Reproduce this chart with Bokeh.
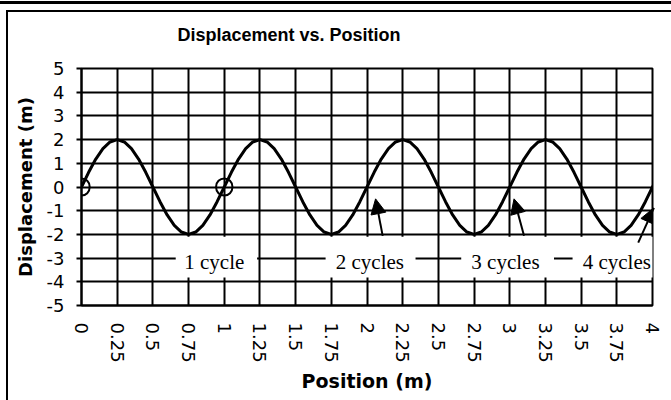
import math
from bokeh.plotting import figure
from bokeh.models import (FixedTicker, Label, Arrow, NormalHead, Range1d)
from bokeh.core.properties import value
from bokeh.embed import file_html
from bokeh.resources import INLINE

# ---- data ----
position = [
    0.00, 0.05, 0.10, 0.15, 0.20, 0.25, 0.30, 0.35, 0.40, 0.45,
    0.50, 0.55, 0.60, 0.65, 0.70, 0.75, 0.80, 0.85, 0.90, 0.95,
    1.00, 1.05, 1.10, 1.15, 1.20, 1.25, 1.30, 1.35, 1.40, 1.45,
    1.50, 1.55, 1.60, 1.65, 1.70, 1.75, 1.80, 1.85, 1.90, 1.95,
    2.00, 2.05, 2.10, 2.15, 2.20, 2.25, 2.30, 2.35, 2.40, 2.45,
    2.50, 2.55, 2.60, 2.65, 2.70, 2.75, 2.80, 2.85, 2.90, 2.95,
    3.00, 3.05, 3.10, 3.15, 3.20, 3.25, 3.30, 3.35, 3.40, 3.45,
    3.50, 3.55, 3.60, 3.65, 3.70, 3.75, 3.80, 3.85, 3.90, 3.95,
    4.00, 4.05,
]
displacement = [
    0.00, 0.62, 1.18, 1.62, 1.90, 2.00, 1.90, 1.62, 1.18, 0.62,
    0.00, -0.62, -1.18, -1.62, -1.90, -2.00, -1.90, -1.62, -1.18, -0.62,
    0.00, 0.62, 1.18, 1.62, 1.90, 2.00, 1.90, 1.62, 1.18, 0.62,
    0.00, -0.62, -1.18, -1.62, -1.90, -2.00, -1.90, -1.62, -1.18, -0.62,
    0.00, 0.62, 1.18, 1.62, 1.90, 2.00, 1.90, 1.62, 1.18, 0.62,
    0.00, -0.62, -1.18, -1.62, -1.90, -2.00, -1.90, -1.62, -1.18, -0.62,
    0.00, 0.62, 1.18, 1.62, 1.90, 2.00, 1.90, 1.62, 1.18, 0.62,
    0.00, -0.62, -1.18, -1.62, -1.90, -2.00, -1.90, -1.62, -1.18, -0.62,
    0.00, 0.62,
]

x_ticks = [0, 0.25, 0.5, 0.75, 1, 1.25, 1.5, 1.75, 2, 2.25, 2.5, 2.75,
           3, 3.25, 3.5, 3.75, 4]
x_tick_labels = ["0", "0.25", "0.5", "0.75", "1", "1.25", "1.5", "1.75", "2",
                 "2.25", "2.5", "2.75", "3", "3.25", "3.5", "3.75", "4"]
y_ticks = [-5, -4, -3, -2, -1, 0, 1, 2, 3, 4, 5]
y_tick_labels = ["-5", "-4", "-3", "-2", "-1", "0", "1", "2", "3", "4", "5"]

marked_x = [0, 1]
marked_y = [0, 0]

cycle_labels = ["1 cycle", "2 cycles", "3 cycles", "4 cycles"]
cycle_label_x = [0.93, 2.02, 2.97, 3.75]
cycle_box_left = [0.66, 1.71, 2.66, 3.44]
cycle_box_right = [1.23, 2.34, 3.31, 4.05]

arrow_tail_x = [2.11, 3.10, 3.90]
arrow_tail_y = [-2.06, -2.06, -2.35]
arrow_head_x = [2.06, 3.03, 4.01]
arrow_head_y = [-0.50, -0.50, -0.88]

# ---- figure ----
p = figure(width=671, height=400, x_range=Range1d(0, 4), y_range=Range1d(-5, 5),
           output_backend="svg", toolbar_location=None,
           min_border_left=81, min_border_right=19, min_border_top=67,
           min_border_bottom=95)
p.background_fill_color = "white"
p.border_fill_color = None
p.outline_line_color = "black"
p.outline_line_width = 2
p.styles = {
    "background-color": "white",
    "background-image": "linear-gradient(#000,#000), linear-gradient(#000,#000), linear-gradient(#000,#000)",
    "background-size": "100% 3px, 100% 2px, 2px 100%",
    "background-position": "0px 1px, 6px 10px, 6px 10px",
    "background-repeat": "no-repeat",
}

p.title.text = "Displacement vs. Position"
p.title.align = "left"
p.title.offset = 96
p.title.standoff = 46
p.title.vertical_align = "middle"
p.title.text_font = "Liberation Sans"
p.title.text_font_style = "bold"
p.title.text_font_size = "18px"
p.title.text_color = "black"

p.xgrid.ticker = FixedTicker(ticks=x_ticks)
p.ygrid.ticker = FixedTicker(ticks=y_ticks)
for g in (p.xgrid, p.ygrid):
    g.grid_line_color = "black"
    g.grid_line_width = 2
    g.grid_line_alpha = 1.0

xa = p.xaxis[0]
xa.ticker = FixedTicker(ticks=x_ticks)
xa.major_label_overrides = dict(zip(x_ticks, x_tick_labels))
xa.major_label_orientation = -math.pi / 2
xa.major_tick_line_color = None
xa.major_tick_out = 0
xa.major_tick_in = 0
xa.minor_tick_line_color = None
xa.axis_line_color = "black"
xa.axis_line_width = 2
xa.major_label_standoff = 17
xa.major_label_text_font = "DejaVu Sans"
xa.major_label_text_font_size = "18px"
xa.major_label_text_color = "black"
xa.axis_label = "Position (m)"
xa.axis_label_text_font = "DejaVu Sans"
xa.axis_label_text_font_style = "bold"
xa.axis_label_text_font_size = "19px"
xa.axis_label_text_color = "black"
xa.axis_label_standoff = 4

ya = p.yaxis[0]
ya.ticker = FixedTicker(ticks=y_ticks)
ya.major_label_overrides = dict(zip(y_ticks, y_tick_labels))
ya.major_tick_out = 5
ya.major_tick_in = 0
ya.major_tick_line_width = 2
ya.major_tick_line_color = "black"
ya.minor_tick_line_color = None
ya.axis_line_color = "black"
ya.axis_line_width = 2
ya.major_label_standoff = 12
ya.major_label_text_font = "DejaVu Sans"
ya.major_label_text_font_size = "18px"
ya.major_label_text_color = "black"
ya.axis_label = "Displacement (m)"
ya.axis_label_text_font = "DejaVu Sans"
ya.axis_label_text_font_style = "bold"
ya.axis_label_text_font_size = "18px"
ya.axis_label_text_color = "black"
ya.axis_label_standoff = 8

# curve
p.line(position, displacement, line_width=3, line_color="black")

# cycle label boxes + text
p.quad(left=cycle_box_left, right=cycle_box_right, top=-2.10, bottom=-3.82,
       fill_color="white", line_color=None)
p.text(x=cycle_label_x, y=[-3.17] * len(cycle_labels), text=cycle_labels,
       text_font=value("Liberation Serif"), text_font_size="21px",
       text_align="center", text_baseline="middle", text_color="black")

# arrows
for xs, ys, xe, ye in zip(arrow_tail_x, arrow_tail_y, arrow_head_x, arrow_head_y):
    p.add_layout(Arrow(x_start=xs, y_start=ys, x_end=xe, y_end=ye,
                       line_width=2, line_color="black",
                       end=NormalHead(size=15, fill_color="black", line_color="black")))

# open circles at marked points
for mx, my in zip(marked_x, marked_y):
    p.add_layout(Label(x=mx, y=my, text=" ", text_font_size="1px",
                       text_align="center", text_baseline="middle",
                       padding=8, border_radius=9,
                       border_line_color="black", border_line_width=2,
                       background_fill_color=None))

open("out.html", "w").write(file_html(p, INLINE))
